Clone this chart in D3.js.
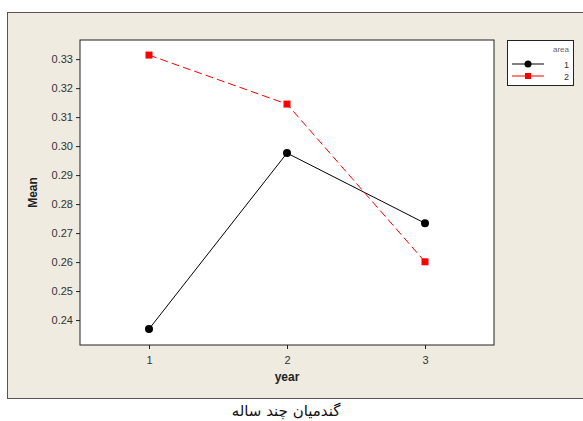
<!DOCTYPE html>
<html>
<head>
<meta charset="utf-8">
<script src="https://cdn.jsdelivr.net/npm/d3@7"></script>
<style>
  body { margin: 0; background: #fff; }
  text { font-family: "Liberation Sans", Arial, sans-serif; }
</style>
</head>
<body>
<div id="chart"></div>
<script>
// data
let years = [1, 2, 3];
let area1 = [0.2369, 0.2976, 0.2734];
let area2 = [0.3314, 0.3145, 0.2601];
let yTicks = [0.24, 0.25, 0.26, 0.27, 0.28, 0.29, 0.30, 0.31, 0.32, 0.33];
let seriesNames = ['1', '2'];

let w = 583, h = 421;
let plot = {left: 80, right: 494, top: 40, bottom: 345};

let svg = d3.select('#chart').append('svg')
  .attr('width', w)
  .attr('height', h);

// panel background
svg.append('rect')
  .attr('x', 7.5).attr('y', 12.5)
  .attr('width', 590).attr('height', 386)
  .attr('fill', '#efebe1')
  .attr('stroke', '#555').attr('stroke-width', 1);

svg.append('rect')
  .attr('x', plot.left).attr('y', plot.top)
  .attr('width', plot.right - plot.left).attr('height', plot.bottom - plot.top)
  .attr('fill', '#fff')
  .attr('stroke', '#222').attr('stroke-width', 1);

let x = d3.scaleLinear().domain([0.5, 3.5]).range([plot.left, plot.right]);
let y = d3.scaleLinear().domain([0.2314, 0.3366]).range([plot.bottom, plot.top]);

// axes
let xAxis = d3.axisBottom(x).tickValues(years).tickFormat(d3.format('d')).tickSize(4).tickSizeOuter(0);
let gx = svg.append('g')
  .attr('transform', 'translate(0,' + plot.bottom + ')')
  .call(xAxis);
let yAxis = d3.axisLeft(y).tickValues(yTicks).tickFormat(d3.format('.2f')).tickSize(4).tickSizeOuter(0);
let gy = svg.append('g')
  .attr('transform', 'translate(' + plot.left + ',0)')
  .call(yAxis);
[gx, gy].forEach(function (g) {
  g.select('.domain').remove();
  g.selectAll('line').attr('stroke', '#222');
  g.selectAll('text').attr('fill', '#333').style('font-size', '11px');
});
gx.selectAll('text').attr('dy', '1.1em');

svg.append('text')
  .text('year')
  .attr('x', x(2)).attr('y', 381)
  .attr('text-anchor', 'middle')
  .style('font-size', '12px').style('font-weight', 'bold').attr('fill', '#222');

svg.append('text')
  .text('Mean')
  .attr('transform', 'translate(37,' + ((plot.top + plot.bottom) / 2) + ') rotate(-90)')
  .attr('text-anchor', 'middle')
  .style('font-size', '12px').style('font-weight', 'bold').attr('fill', '#222');

// lines
let line = d3.line().x(function (d, i) { return x(years[i]); }).y(function (d) { return y(d); });

svg.append('path').datum(area1)
  .attr('d', line).attr('fill', 'none').attr('stroke', '#000').attr('stroke-width', 1);
svg.append('path').datum(area2)
  .attr('d', line).attr('fill', 'none').attr('stroke', '#f00').attr('stroke-width', 1)
  .attr('stroke-dasharray', '8,4');

svg.selectAll('.pt1').data(area1).enter().append('circle')
  .attr('cx', function (d, i) { return x(years[i]); })
  .attr('cy', function (d) { return y(d); })
  .attr('r', 4).attr('fill', '#000');
svg.selectAll('.pt2').data(area2).enter().append('rect')
  .attr('x', function (d, i) { return x(years[i]) - 3.5; })
  .attr('y', function (d) { return y(d) - 3.5; })
  .attr('width', 7).attr('height', 7).attr('fill', '#f00');

// legend
let lg = svg.append('g');
lg.append('rect')
  .attr('x', 507.5).attr('y', 40.5).attr('width', 66).attr('height', 45)
  .attr('fill', '#fff').attr('stroke', '#222');
lg.append('text').text('area')
  .attr('x', 569).attr('y', 52).attr('text-anchor', 'end')
  .style('font-size', '8px').attr('fill', '#666');
seriesNames.forEach(function (name, i) {
  let ly = 64 + i * 12;
  let color = i === 0 ? '#000' : '#f00';
  lg.append('line').attr('x1', 512).attr('x2', 544).attr('y1', ly).attr('y2', ly)
    .attr('stroke', color);
  if (i === 0) {
    lg.append('circle').attr('cx', 528).attr('cy', ly).attr('r', 3.5).attr('fill', color);
  } else {
    lg.append('rect').attr('x', 525).attr('y', ly - 3).attr('width', 6).attr('height', 6).attr('fill', color);
  }
  lg.append('text').text(name)
    .attr('x', 569).attr('y', ly + 3.5).attr('text-anchor', 'end')
    .style('font-size', '9px').attr('fill', '#333');
});

// caption below the panel
svg.append('text')
  .text('گندمیان چند ساله')
  .attr('x', 286).attr('y', 416)
  .attr('text-anchor', 'middle')
  .attr('direction', 'rtl')
  .style('font-family', '"DejaVu Sans", "Noto Sans", sans-serif')
  .style('font-size', '15px').attr('fill', '#111');
</script>
</body>
</html>
